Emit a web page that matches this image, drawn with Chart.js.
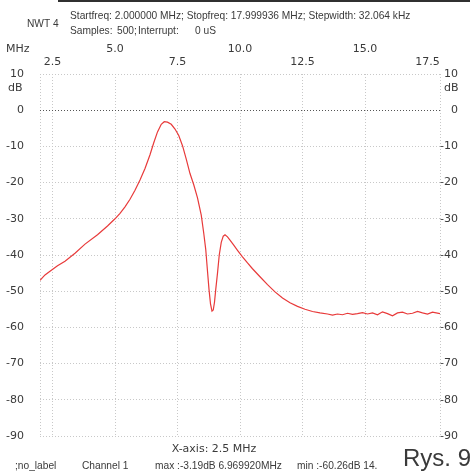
<!DOCTYPE html>
<html>
<head>
<meta charset="utf-8">
<script src="https://cdn.jsdelivr.net/npm/chart.js@4/dist/chart.umd.min.js"></script>
<style>
html,body{margin:0;padding:0;background:#fff;}
#wrap{position:relative;width:470px;height:472px;}
canvas{display:block;}
</style>
</head>
<body>
<div id="wrap"><canvas id="c" width="470" height="472"></canvas></div>
<script>
// ---- data ----
const freqMHz = [2.0,2.2,2.4,2.7,3.0,3.4,3.8,4.3,4.7,5.0,5.2,5.4,5.6,5.8,6.0,6.2,6.4,6.55,6.7,6.85,6.97,
  7.1,7.25,7.4,7.55,7.7,7.85,8.0,8.15,8.3,8.45,8.55,8.63,8.7,8.76,8.82,8.88,8.93,8.98,9.03,9.1,9.17,9.25,9.33,9.4,
  9.5,9.6,9.75,9.9,10.1,10.3,10.5,10.8,11.1,11.4,11.7,12.0,12.3,12.6,12.9,13.2,13.5,
  13.7,13.9,14.1,14.3,14.5,14.7,14.9,15.1,15.3,15.5,15.7,15.9,16.1,16.3,16.5,16.7,16.9,17.1,17.3,17.5,17.7,18.0];
const levelDb = [-47.0,-45.5,-44.5,-43.0,-41.7,-39.5,-37.0,-34.4,-32.0,-30.0,-28.5,-26.7,-24.6,-22.1,-19.3,-16.1,-12.3,-9.0,-6.0,-3.9,-3.19,
  -3.3,-3.9,-5.2,-7.0,-9.8,-13.5,-17.5,-20.6,-24.2,-29.0,-34.0,-38.5,-44.5,-49.5,-53.5,-55.5,-55.2,-53.0,-49.5,-45.0,-40.0,-36.5,-34.8,-34.4,
  -35.0,-35.9,-37.3,-38.7,-40.5,-42.2,-43.8,-46.0,-48.2,-50.2,-51.9,-53.2,-54.2,-55.0,-55.6,-56.0,-56.3,
  -56.6,-56.3,-56.5,-56.1,-56.4,-56.2,-55.9,-56.3,-56.0,-56.5,-55.7,-56.2,-56.8,-56.0,-55.8,-56.3,-56.1,-55.6,-56.0,-56.3,-55.8,-56.2];
const xTickValues = [2.5,5.0,7.5,10.0,12.5,15.0,17.5];
const xTickLabels = ['2.5','5.0','7.5','10.0','12.5','15.0','17.5'];
const yTickValues = [10,0,-10,-20,-30,-40,-50,-60,-70,-80,-90];
const yTickLabels = ['10','0','-10','-20','-30','-40','-50','-60','-70','-80','-90'];
const headerLine1 = 'Startfreq: 2.000000 MHz; Stopfreq: 17.999936 MHz; Stepwidth: 32.064 kHz';
const footerItems = [';no_label','Channel 1','max :-3.19dB 6.969920MHz','min :-60.26dB 14.'];

const TXT = '#3a3a3a';
const labelPlugin = {
  id:'labels',
  afterDraw(chart){
    const ctx = chart.ctx, xs = chart.scales.x, ys = chart.scales.y;
    ctx.save();
    // top bar
    ctx.fillStyle = '#303030';
    ctx.fillRect(58,0,412,2);
    ctx.fillStyle = TXT;
    ctx.textBaseline = 'middle';
    ctx.font = '10.2px "Liberation Sans", Arial, sans-serif';
    ctx.textAlign = 'left';
    ctx.fillText('NWT 4', 27, 24);
    ctx.fillText(headerLine1, 70, 16);
    ctx.fillText('Samples:', 70, 31);
    ctx.fillText('500;', 117, 31);
    ctx.fillText('Interrupt:', 138, 31);
    ctx.fillText('0 uS', 195, 31);
    // x tick labels, two rows
    ctx.font = '11px "DejaVu Sans", sans-serif';
    ctx.textAlign = 'left';
    ctx.fillText('MHz', 6, 49);
    ctx.textAlign = 'center';
    xTickValues.forEach((v,i)=>{
      const px = xs.getPixelForValue(v);
      const row = (i % 2 === 0) ? 62.5 : 49;
      ctx.fillText(xTickLabels[i], px, row);
    });
    // y tick labels both sides
    ctx.textAlign = 'right';
    yTickValues.forEach((v,i)=>{
      const py = ys.getPixelForValue(v);
      ctx.fillText(yTickLabels[i], 24, py);
      ctx.fillText(yTickLabels[i], 458, py);
    });
    ctx.textAlign = 'left';
    ctx.fillText('dB', 8, 88);
    ctx.fillText('dB', 444, 88);
    // footer
    ctx.font = '11px "DejaVu Sans", sans-serif';
    ctx.textAlign = 'center';
    ctx.fillText('X-axis: 2.5 MHz', 214, 449);
    ctx.font = '10.2px "Liberation Sans", Arial, sans-serif';
    ctx.textAlign = 'left';
    const fx = [15, 82, 155, 297];
    footerItems.forEach((t,i)=>ctx.fillText(t, fx[i], 466));
    ctx.font = '24px "Liberation Sans", Arial, sans-serif';
    ctx.textBaseline = 'alphabetic';
    ctx.fillText('Rys. 9', 403, 466);
    ctx.restore();
  }
};

new Chart(document.getElementById('c'), {
  type:'line',
  data:{
    datasets:[{
      data: freqMHz.map((f,i)=>({x:f, y:levelDb[i]})),
      borderColor:'#e83a3a',
      borderWidth:1.2,
      pointRadius:0,
      tension:0,
      fill:false
    }]
  },
  options:{
    responsive:false,
    animation:false,
    devicePixelRatio:1,
    layout:{padding:{left:40,top:74,right:30,bottom:36}},
    plugins:{legend:{display:false},tooltip:{enabled:false}},
    scales:{
      x:{
        type:'linear', position:'top', min:2, max:18,
        afterFit(s){ s.height = 0; },
        ticks:{display:false, stepSize:2.5},
        grid:{color:'#c8c8c8', lineWidth:1, drawTicks:false},
        border:{display:false, dash:[1,2]}
      },
      y:{
        type:'linear', min:-90, max:10,
        afterFit(s){ s.width = 0; },
        ticks:{display:false, stepSize:10},
        grid:{color:(c)=> (c.tick && c.tick.value===0) ? '#555555' : '#c8c8c8', lineWidth:1, drawTicks:false},
        border:{display:false, dash:[1,2]}
      }
    }
  },
  plugins:[labelPlugin]
});
</script>
</body>
</html>
